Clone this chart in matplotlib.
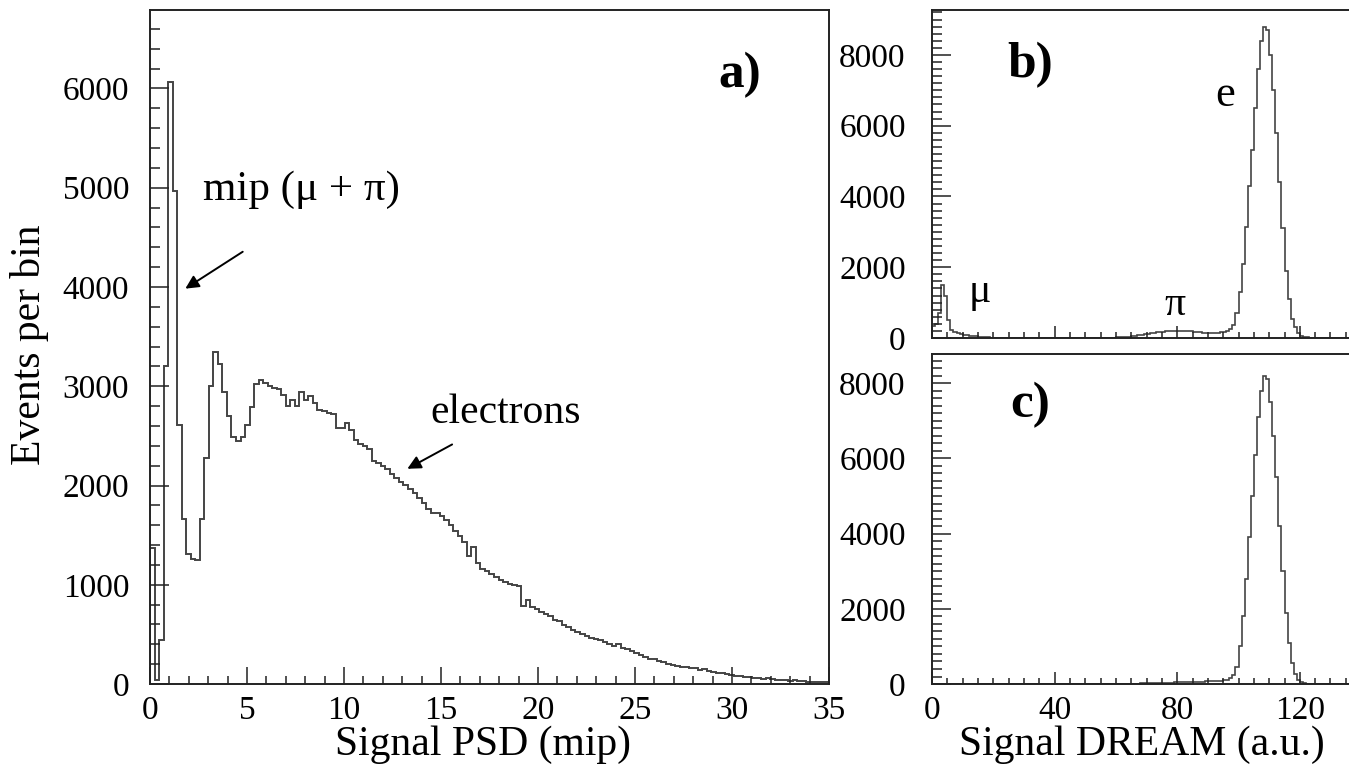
import matplotlib.pyplot as plt
import numpy as np
from matplotlib.ticker import MultipleLocator

plt.rcParams['font.family'] = ['Liberation Serif', 'DejaVu Serif']

# --- a) PSD signal, 150 bins between 0 and 35 mip
psd_range = (0, 35)
psd_counts = [
    1370, 40, 440, 3200, 6060, 4970, 2610, 1665, 1310, 1260,
    1250, 1665, 2280, 3000, 3340, 3225, 2940, 2700, 2490, 2450,
    2490, 2610, 2790, 3020, 3060, 3030, 3000, 2980, 2975, 2910,
    2800, 2860, 2800, 2945, 2860, 2900, 2830, 2760, 2750, 2730,
    2720, 2580, 2575, 2630, 2560, 2460, 2420, 2400, 2370, 2250,
    2230, 2200, 2170, 2120, 2080, 2040, 2010, 1960, 1920, 1870,
    1820, 1760, 1720, 1720, 1690, 1650, 1600, 1540, 1490, 1430,
    1290, 1380, 1220, 1160, 1140, 1110, 1080, 1050, 1030, 1010,
    1000, 990, 790, 850, 780, 760, 730, 710, 690, 650,
    640, 590, 570, 540, 520, 500, 480, 465, 450, 440,
    420, 400, 385, 400, 365, 355, 335, 310, 290, 270,
    255, 250, 230, 220, 205, 195, 185, 175, 170, 165,
    160, 140, 150, 130, 120, 110, 110, 100, 95, 85,
    80, 75, 70, 65, 60, 55, 60, 50, 45, 45,
    40, 35, 40, 30, 30, 25, 25, 20, 20, 25,
]

# --- b), c) DREAM signal, 1 a.u. bins from 0 to 140
dream_range = (0, 140)
dream_all = [
    350, 400, 700, 1500, 1200, 500, 220, 160, 130, 110,
    95, 80, 70, 60, 50, 40, 30, 22, 16, 12,
    9, 7, 5, 4, 3, 2, 2, 1, 1, 0,
    0, 0, 0, 0, 0, 0, 0, 0, 0, 0,
    0, 0, 0, 0, 0, 0, 0, 0, 0, 0,
    0, 0, 0, 0, 0, 2, 3, 5, 8, 12,
    16, 20, 26, 32, 40, 50, 60, 72, 85, 100,
    115, 130, 145, 158, 170, 180, 188, 195, 200, 205,
    210, 205, 200, 195, 185, 175, 168, 160, 155, 150,
    150, 148, 150, 155, 160, 170, 200, 260, 380, 700,
    1300, 2100, 3150, 4300, 5300, 6500, 7600, 8400, 8800, 8700,
    8000, 7000, 5800, 4400, 3100, 1900, 1100, 550, 300, 150,
    60, 30, 15, 5, 0, 0, 0, 0, 0, 0,
    0, 0, 0, 0, 0, 0, 0, 0, 0, 0,
]
dream_sel = [0] * 60 + [
    3, 4, 5, 6, 8, 10, 12, 14, 16, 18,
    20, 22, 25, 27, 30, 32, 35, 38, 40, 42,
    45, 48, 50, 52, 55, 58, 60, 62, 65, 68,
    72, 76, 80, 85, 90, 100, 120, 150, 230, 450,
    1000, 1800, 2800, 3900, 5000, 6100, 7100, 7800, 8180, 8100,
    7500, 6600, 5500, 4200, 3000, 1900, 1100, 550, 270, 120,
    50, 20, 8, 2, 0, 0, 0, 0, 0, 0,
    0, 0, 0, 0, 0, 0, 0, 0, 0, 0,
]

line_c = '#444444'
frame_c = '#222222'

fig = plt.figure(figsize=(13.49, 7.71), dpi=100)


def style(ax, pad_y, pad_x, ylen, xlen):
    for s in ax.spines.values():
        s.set_linewidth(1.4)
        s.set_color(frame_c)
    ax.tick_params(which='both', direction='in', top=False, right=False,
                   colors=frame_c, labelsize=24, width=1.1)
    ax.tick_params(axis='y', which='major', length=ylen, pad=pad_y)
    ax.tick_params(axis='y', which='minor', length=ylen / 2)
    ax.tick_params(axis='x', which='major', length=xlen, pad=pad_x)
    ax.tick_params(axis='x', which='minor', length=xlen / 2)
    for lab in ax.get_xticklabels() + ax.get_yticklabels():
        lab.set_color('black')


# a)
ax1 = fig.add_axes([0.1112, 0.1128, 0.5033, 0.8742])
edges = np.linspace(psd_range[0], psd_range[1], len(psd_counts) + 1)
ax1.stairs(psd_counts, edges, color=line_c, linewidth=1.4)
ax1.set_xlim(psd_range)
ax1.set_ylim(0, 6790)
ax1.xaxis.set_major_locator(MultipleLocator(5))
ax1.xaxis.set_minor_locator(MultipleLocator(1))
ax1.yaxis.set_major_locator(MultipleLocator(1000))
ax1.yaxis.set_minor_locator(MultipleLocator(200))
style(ax1, 15, 8, 14, 12)
ax1.set_ylabel('Events per bin', fontsize=30)
ax1.yaxis.set_label_coords(-0.177, 0.503)
ax1.yaxis.label.set_va('center')
ax1.set_xlabel('Signal PSD (mip)', fontsize=30)
ax1.xaxis.set_label_coords(0.49, -0.0905)
ax1.xaxis.label.set_va('center')

ax1.text(30.4, 6133, 'a)', fontsize=37, fontweight='bold',
         ha='center', va='center')
ax1.text(2.75, 4975, 'mip (\u03bc + \u03c0)', fontsize=31,
         ha='left', va='center')
ax1.annotate('', xy=(1.7, 3968), xytext=(4.9, 4370),
             arrowprops=dict(arrowstyle='-|>', color='black', lw=1.4,
                             mutation_scale=20))
ax1.text(14.45, 2730, 'electrons', fontsize=30, ha='left', va='center')
ax1.annotate('', xy=(13.14, 2155), xytext=(15.7, 2427),
             arrowprops=dict(arrowstyle='-|>', color='black', lw=1.4,
                             mutation_scale=20))

# b) and c)
d_edges = np.linspace(dream_range[0], dream_range[1], len(dream_all) + 1)

ax2 = fig.add_axes([0.6909, 0.5616, 0.3181, 0.4254])
ax2.stairs(dream_all, d_edges, color=line_c, linewidth=1.2)
ax2.set_ylim(0, 9270)

ax3 = fig.add_axes([0.6909, 0.1128, 0.3181, 0.4281])
ax3.stairs(dream_sel, d_edges, color=line_c, linewidth=1.2)
ax3.set_ylim(0, 8777)

for ax in (ax2, ax3):
    ax.set_xlim(dream_range)
    ax.xaxis.set_major_locator(MultipleLocator(40))
    ax.xaxis.set_minor_locator(MultipleLocator(5))
    ax.yaxis.set_major_locator(MultipleLocator(2000))
    ax.yaxis.set_minor_locator(MultipleLocator(200))
    style(ax, 19, 8, 14, 9)
ax2.tick_params(axis='x', labelbottom=False)

ax2.text(32, 7710, 'b)', fontsize=37, fontweight='bold', ha='center', va='center')
ax2.text(95.5, 6864, 'e', fontsize=32, ha='center', va='center')
ax2.text(15.6, 1300, '\u03bc', fontsize=30, ha='center', va='center')
ax2.text(79.2, 930, '\u03c0', fontsize=30, ha='center', va='center')
ax3.text(32, 7420, 'c)', fontsize=37, fontweight='bold', ha='center', va='center')

ax3.set_xlabel('Signal DREAM (a.u.)', fontsize=30)
ax3.xaxis.set_label_coords(0.489, -0.185)
ax3.xaxis.label.set_va('center')

fig.savefig('out.png', dpi=100)
